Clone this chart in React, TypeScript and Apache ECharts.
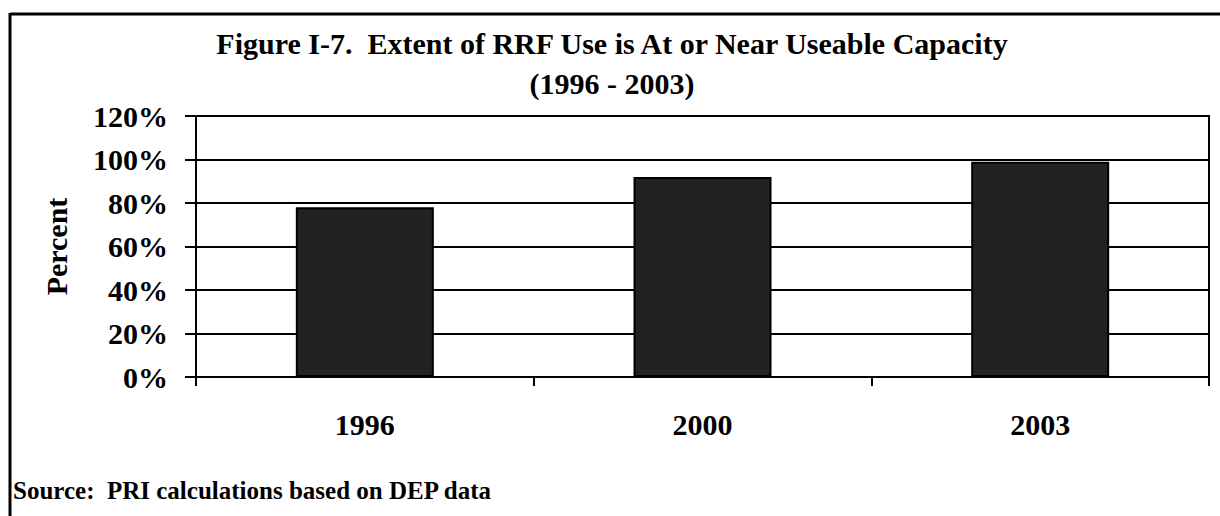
import React, { useEffect, useRef } from "react";
import * as echarts from "echarts";

const categories = ["1996", "2000", "2003"];
const values = [78, 92, 99];
const yTicks = [0, 20, 40, 60, 80, 100, 120];
const titleLines = [
  "Figure I-7.  Extent of RRF Use is At or Near Useable Capacity",
  "(1996 - 2003)",
];
const sourceNote = "Source:  PRI calculations based on DEP data";

const FONT = "'Liberation Serif', 'Times New Roman', serif";

export default function App() {
  const ref = useRef<HTMLDivElement>(null);
  useEffect(() => {
    const chart = echarts.init(ref.current!, null, { renderer: "svg" });
    chart.setOption({
      animation: false,
      backgroundColor: "#ffffff",
      grid: {
        left: 196,
        right: 11,
        top: 116,
        bottom: 139,
        show: true,
        borderColor: "#000",
        borderWidth: 2,
      },
      xAxis: {
        type: "category",
        data: categories,
        axisLine: { show: true, lineStyle: { color: "#000", width: 2 } },
        axisTick: { show: true, length: 9, lineStyle: { color: "#000", width: 2 } },
        axisLabel: {
          margin: 32,
          fontFamily: FONT,
          fontWeight: "bold",
          fontSize: 30,
          color: "#000",
        },
      },
      yAxis: {
        type: "value",
        min: 0,
        max: 120,
        interval: 20,
        name: "Percent",
        nameLocation: "middle",
        nameGap: 125,
        nameRotate: 90,
        nameTextStyle: {
          fontFamily: FONT,
          fontWeight: "bold",
          fontSize: 30,
          color: "#000",
        },
        axisLine: { show: true, lineStyle: { color: "#000", width: 2 } },
        axisTick: { show: true, length: 11, lineStyle: { color: "#000", width: 2 } },
        splitLine: { show: true, lineStyle: { color: "#000", width: 2 } },
        axisLabel: {
          margin: 28,
          fontFamily: FONT,
          fontWeight: "bold",
          fontSize: 30,
          color: "#000",
          formatter: (v: number) => (yTicks.includes(v) ? v + "%" : ""),
        },
      },
      series: [
        {
          type: "bar",
          data: values,
          barWidth: 138,
          itemStyle: { color: "#222222", borderColor: "#000", borderWidth: 2 },
        },
      ],
      graphic: [
        {
          type: "line",
          shape: { x1: 10, y1: 14, x2: 1220, y2: 14 },
          style: { stroke: "#000", lineWidth: 3 },
        },
        {
          type: "line",
          shape: { x1: 10, y1: 13, x2: 10, y2: 516 },
          style: { stroke: "#000", lineWidth: 3 },
        },
        ...titleLines.map((t, i) => ({
          type: "text",
          x: 612,
          y: 43 + i * 40,
          style: {
            text: t,
            align: "center",
            verticalAlign: "middle",
            fontFamily: FONT,
            fontWeight: "bold",
            fontSize: 30,
            fill: "#000",
          },
        })),
        {
          type: "text",
          x: 13,
          y: 490,
          style: {
            text: sourceNote,
            align: "left",
            verticalAlign: "middle",
            fontFamily: FONT,
            fontWeight: "bold",
            fontSize: 25,
            fill: "#000",
          },
        },
      ],
    });
    return () => chart.dispose();
  }, []);
  return (
    <div
      ref={ref}
      style={{ position: "absolute", left: 0, top: 0, width: 1220, height: 516 }}
    />
  );
}
